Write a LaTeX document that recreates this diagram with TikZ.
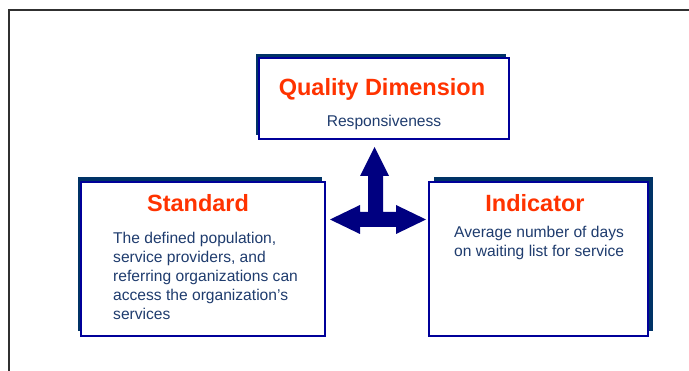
\documentclass[tikz,border=0pt]{standalone}
\usepackage{fontspec}
\setmainfont{Liberation Sans}
\usetikzlibrary{shadows}
\definecolor{boxblue}{HTML}{000099}
\definecolor{shadowblue}{HTML}{003366}
\definecolor{titlered}{HTML}{FF3300}
\definecolor{bodyblue}{HTML}{1F3C6E}
\definecolor{arrownavy}{HTML}{000080}
\definecolor{framegray}{HTML}{303030}
\begin{document}
\begin{tikzpicture}[x=1pt,y=-1pt,
  frontbox/.style={draw=boxblue, line width=2pt, fill=white, rectangle, inner sep=0pt},
  titletext/.style={font=\fontsize{23.5}{28}\selectfont\bfseries, text=titlered, inner sep=0pt, anchor=base},
  bodytext/.style={font=\fontsize{15.6}{19}\selectfont, text=bodyblue, inner sep=0pt, align=left, anchor=base west}
]
\useasboundingbox (0,0) rectangle (689,371);
\fill[white] (0,0) rectangle (689,371);
% outer frame
\draw[framegray, line width=2pt] (9,380) -- (9,10) -- (700,10);

% boxes
\node[frontbox, minimum width=250pt, minimum height=81pt,
  general shadow={fill=shadowblue, shadow xshift=-3pt, shadow yshift=4pt}] (quality) at (384,98.5) {};
\node[frontbox, minimum width=244pt, minimum height=154pt,
  general shadow={fill=shadowblue, shadow xshift=-3pt, shadow yshift=4.5pt}] (standard) at (203,259) {};
\node[frontbox, minimum width=219pt, minimum height=154pt,
  general shadow={fill=shadowblue, shadow xshift=4.5pt, shadow yshift=4.5pt}] (indicator) at (538.5,259) {};

% titles and texts
\node[titletext] (qtitle) at (382,96) {Quality Dimension};
\node[bodytext, anchor=base] (qbody) at (384,127) {Responsiveness};

\node[titletext] (stitle) at (198,212) {Standard};
\node[bodytext] (sbody) at (113,320) {The defined population,\\service providers, and\\referring organizations can\\access the organization’s\\services};

\node[titletext] (ititle) at (535,212) {Indicator};
\node[bodytext] (ibody) at (454,257) {Average number of days\\on waiting list for service};

% three-way arrow
\fill[arrownavy] (374.5,147) -- (389,176) -- (383,176) -- (383,212) -- (396,212) -- (396,205)
  -- (426,219.5) -- (396,234) -- (396,227) -- (360,227) -- (360,234) -- (330,219.5)
  -- (360,205) -- (360,212) -- (368,212) -- (368,176) -- (360,176) -- cycle;
\end{tikzpicture}
\end{document}
